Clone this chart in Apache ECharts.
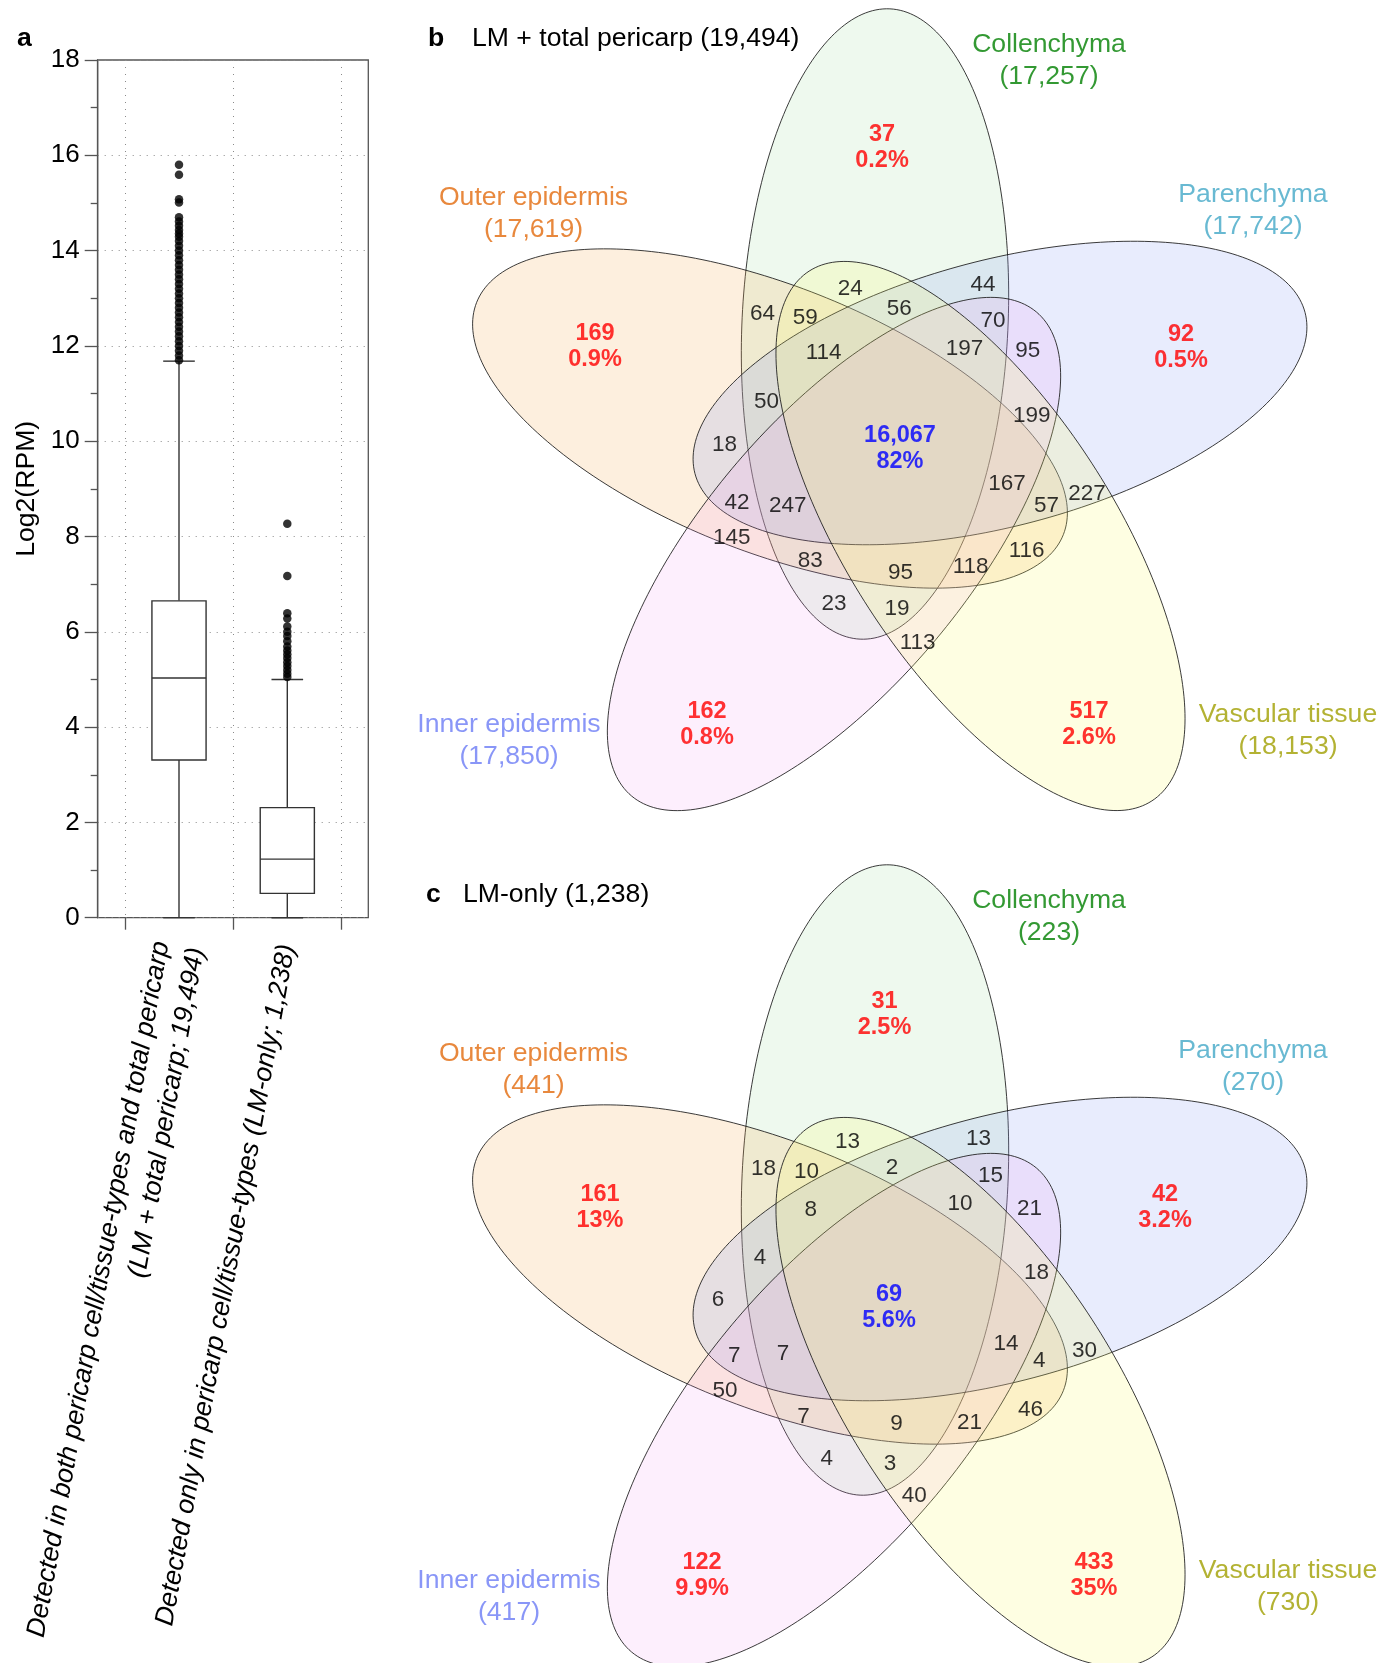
<!DOCTYPE html>
<html>
<head>
<meta charset="utf-8">
<script src="https://cdn.jsdelivr.net/npm/echarts@6.0.0/dist/echarts.min.js"></script>
<style>
  html, body { margin: 0; padding: 0; background: #ffffff; }
  #chart { width: 1382px; height: 1663px; }
</style>
</head>
<body>
<div id="chart"></div>
<script>
// ---------------- panel a: expression of detected genes ----------------
const boxGroupNames = [
  'Detected in both pericarp cell/tissue-types and total pericarp',
  'Detected only in pericarp cell/tissue-types'
];
const boxGroupTags = ['LM + total pericarp', 'LM-only'];
const boxGroupGenes = [19494, 1238];

// lower whisker, Q1, median, Q3, upper whisker (log2 RPM)
const boxLmTotal = [0, 3.31, 5.03, 6.65, 11.68];
const boxLmOnly = [0, 0.51, 1.23, 2.31, 5.0];

// genes beyond the upper whisker
const outliersLmTotal = [11.7, 11.8, 11.9, 12.0, 12.1, 12.2, 12.3, 12.4, 12.5, 12.6, 12.7, 12.8,
  12.9, 13.0, 13.1, 13.2, 13.3, 13.4, 13.5, 13.6, 13.7, 13.8, 13.9, 14.0, 14.1, 14.2, 14.29,
  14.36, 14.43, 14.52, 14.61, 14.7, 15.01, 15.08, 15.59, 15.8];
const outliersLmOnly = [5.05, 5.12, 5.2, 5.28, 5.36, 5.45, 5.53, 5.61, 5.69, 5.8, 5.91, 6.0,
  6.11, 6.28, 6.39, 7.17, 8.27];

// ---------------- panels b and c: five-set overlaps ----------------
const setNames = ['Collenchyma', 'Outer epidermis', 'Parenchyma', 'Inner epidermis', 'Vascular tissue'];

const lmTotalGenes = 19494;
const lmTotalSetSizes = [17257, 17619, 17742, 17850, 18153];
const lmTotalUnique = [37, 169, 92, 162, 517];
const lmTotalUniquePct = ['0.2%', '0.9%', '0.5%', '0.8%', '2.6%'];
const lmTotalShared = 16067;
const lmTotalSharedPct = '82%';
const lmTotalOverlaps = [24, 44, 64, 59, 56, 70, 114, 197, 95, 50, 199, 18, 167, 57, 227,
  42, 247, 145, 116, 83, 95, 118, 23, 19, 113];

const lmOnlyGenes = 1238;
const lmOnlySetSizes = [223, 441, 270, 417, 730];
const lmOnlyUnique = [31, 161, 42, 122, 433];
const lmOnlyUniquePct = ['2.5%', '13%', '3.2%', '9.9%', '35%'];
const lmOnlyShared = 69;
const lmOnlySharedPct = '5.6%';
const lmOnlyOverlaps = [13, 13, 18, 10, 2, 15, 8, 10, 21, 4, 18, 6, 14, 4, 30,
  7, 7, 50, 46, 7, 9, 21, 4, 3, 40];

// ---------------- layout of the diagram (panel pixel units, y down) ----------------
const ELLIPSE_A = 315.5;
const ELLIPSE_B = 133;
const ellipseLayout = [
  { cx: 875,   cy: 324,   tilt: 87.3 },
  { cx: 770,   cy: 418.5, tilt: 158.4 },
  { cx: 1000,  cy: 393,   tilt: 14.8 },
  { cx: 834,   cy: 554,   tilt: 230.1 },
  { cx: 980.5, cy: 536,   tilt: 302.9 }
];
const setLabelPos = [[1049, 58], [533.5, 211], [1253, 208], [509, 738], [1288, 728.5]];
const uniquePosLmTotal = [[882, 145], [595, 344.5], [1181, 345], [707, 722], [1089, 722]];
const uniquePosLmOnly = [[884.5, 156], [600, 349], [1165, 349], [702, 717], [1094, 717]];
const sharedPosLmTotal = [900, 446];
const sharedPosLmOnly = [889, 448.7];
const overlapPosLmTotal = [
  [850.2, 286], [982.9, 282.3], [762.4, 311.7], [805.3, 315], [899.2, 306.7], [993, 318.3],
  [823.7, 350.7], [964.5, 346.7], [1027.8, 348.3], [766.5, 399], [1031.8, 413.3], [724.5, 442.3],
  [1007, 481.5], [1046.5, 503], [1087, 491], [737, 500.7], [787.8, 503.3], [731.8, 535],
  [1026.6, 548.6], [810.2, 558.3], [900.4, 570], [970.6, 564.3], [833.9, 601], [897.1, 606.7],
  [917.6, 640]
];
const overlapPosLmOnly = [
  [847.5, 283], [978.6, 280.7], [763.6, 310.7], [806.4, 313.3], [892.1, 309], [990.4, 317.3],
  [810.7, 351.7], [960, 345], [1029.6, 350.7], [760, 399.7], [1036.4, 414], [717.9, 441.3],
  [1006, 485.7], [1039.3, 502.3], [1084.6, 492.3], [734.3, 497.3], [782.9, 495.7], [725, 532.3],
  [1030.4, 551.3], [803.6, 558], [896.4, 565.7], [969.6, 564], [826.8, 600.7], [890, 605.7],
  [914.3, 637.3]
];

// ---------------- styles ----------------
const FONT = 'Liberation Sans';
const setTextColors = ['#007f00', '#e26a0c', '#42a8c7', '#6b7cf5', '#a09f00'];
const setFills = ['rgba(150,215,150,0.16)', 'rgba(245,175,90,0.2)', 'rgba(140,160,245,0.2)',
  'rgba(240,150,240,0.15)', 'rgba(250,250,110,0.2)'];
const FRAME = '#555555';
const LABEL_NUDGE = [0, 2.5];

const fmt = n => String(n).replace(/\B(?=(\d{3})+(?!\d))/g, ',');

function ellipseSeries(gridIdx, sizes) {
  return {
    type: 'custom',
    xAxisIndex: gridIdx,
    yAxisIndex: gridIdx,
    silent: true,
    z: 2,
    data: sizes.map((v, i) => [i, v]),
    renderItem: function (params, api) {
      const i = api.value(0);
      const e = ellipseLayout[i];
      const t = e.tilt * Math.PI / 180;
      const ct = Math.cos(t), st = Math.sin(t);
      const points = [];
      for (let k = 0; k < 240; k++) {
        const u = k / 240 * 2 * Math.PI;
        const ex = ELLIPSE_A * Math.cos(u);
        const ey = ELLIPSE_B * Math.sin(u);
        points.push(api.coord([e.cx + ex * ct - ey * st, e.cy - (ex * st + ey * ct)]));
      }
      return {
        type: 'polygon',
        shape: { points: points },
        style: { fill: setFills[i], stroke: 'rgba(25,25,25,0.85)', lineWidth: 1 }
      };
    }
  };
}

function labelSeries(gridIdx, items) {
  return {
    type: 'scatter',
    xAxisIndex: gridIdx,
    yAxisIndex: gridIdx,
    silent: true,
    symbolSize: 0,
    z: 5,
    data: items.map(it => ({
      value: it.pos,
      label: {
        show: true,
        position: 'inside',
        offset: LABEL_NUDGE,
        formatter: it.text,
        color: it.color,
        fontSize: it.size,
        fontWeight: it.weight,
        lineHeight: it.lh,
        fontFamily: FONT
      }
    }))
  };
}

function vennLabels(gridIdx, sizes, unique, uniquePct, uniquePos, shared, sharedPct, sharedPos, overlaps, overlapPos) {
  const items = [];
  setNames.forEach((n, i) => {
    items.push({ pos: setLabelPos[i], text: n + '\n(' + fmt(sizes[i]) + ')', color: setTextColors[i], size: 26.6, weight: 'normal', lh: 32 });
    items.push({ pos: uniquePos[i], text: fmt(unique[i]) + '\n' + uniquePct[i], color: '#ff0000', size: 23.5, weight: 'bold', lh: 26 });
  });
  items.push({ pos: sharedPos, text: fmt(shared) + '\n' + sharedPct, color: '#0000ff', size: 23.5, weight: 'bold', lh: 26 });
  overlaps.forEach((v, i) => {
    items.push({ pos: overlapPos[i], text: fmt(v), color: '#000000', size: 22.5, weight: 'normal', lh: 24 });
  });
  return labelSeries(gridIdx, items);
}

const titleStyle = (bold) => ({ fontSize: 26.6, lineHeight: 26, fontWeight: bold ? 'bold' : 'normal', color: '#000', fontFamily: FONT });

const hiddenValueAxis = (gridIndex, min, max, inverse) => ({
  type: 'value', gridIndex: gridIndex, min: min, max: max, inverse: !!inverse, show: false
});

const option = {
  animation: false,
  backgroundColor: '#ffffff',
  textStyle: { fontFamily: FONT },
  title: [
    { text: 'a', left: 17, top: 26, padding: 0, textStyle: titleStyle(true) },
    { text: 'b', left: 428, top: 26, padding: 0, textStyle: titleStyle(true) },
    { text: boxGroupTags[0] + ' (' + fmt(lmTotalGenes) + ')', left: 472, top: 26, padding: 0, textStyle: titleStyle(false) },
    { text: 'c', left: 426, top: 882, padding: 0, textStyle: titleStyle(true) },
    { text: boxGroupTags[1] + ' (' + fmt(lmOnlyGenes) + ')', left: 463, top: 882, padding: 0, textStyle: titleStyle(false) }
  ],
  grid: [
    { left: 97.7, top: 60, width: 270.6, height: 857.7, show: true, borderColor: FRAME, borderWidth: 1.3, backgroundColor: 'transparent' },
    { left: 124.85, top: 60, width: 216.6, height: 857.7 },
    { left: 0, top: 0, width: 1382, height: 831 },
    { left: 0, top: 856, width: 1382, height: 807 }
  ],
  xAxis: [
    hiddenValueAxis(0, 0, 1),
    {
      type: 'category',
      gridIndex: 1,
      data: boxGroupNames,
      boundaryGap: true,
      axisLine: { show: false },
      axisTick: { show: true, length: 12, lineStyle: { color: FRAME, width: 1.3 } },
      splitLine: { show: true, lineStyle: { color: '#8a8a8a', width: 1, type: [1, 6] } },
      axisLabel: {
        interval: 0,
        rotate: 79.8,
        margin: 27,
        padding: [14, 0, 0, 0],
        fontSize: 26.6,
        lineHeight: 36,
        fontStyle: 'italic',
        color: '#000',
        fontFamily: FONT,
        formatter: function (value, index) {
          const tail = '(' + boxGroupTags[index] + '; ' + fmt(boxGroupGenes[index]) + ')';
          return index === 0 ? value + '\n' + tail : value + ' ' + tail;
        }
      }
    },
    hiddenValueAxis(2, 0, 1382),
    hiddenValueAxis(3, 0, 1382)
  ],
  yAxis: [
    {
      type: 'value',
      gridIndex: 0,
      min: 0,
      max: 18,
      interval: 2,
      name: 'Log2(RPM)',
      nameLocation: 'middle',
      nameGap: 58,
      nameRotate: 90,
      nameTextStyle: { fontSize: 26.6, color: '#000', fontFamily: FONT },
      axisLine: { show: true, lineStyle: { color: FRAME, width: 1.3 } },
      axisTick: { show: true, length: 13, lineStyle: { color: FRAME, width: 1.3 } },
      minorTick: { show: true, splitNumber: 2, length: 7, lineStyle: { color: FRAME, width: 1.3 } },
      axisLabel: { fontSize: 26, margin: 18, color: '#000', fontFamily: FONT },
      splitLine: { show: true, lineStyle: { color: '#8a8a8a', width: 1, type: [1, 6] } }
    },
    hiddenValueAxis(1, 0, 18),
    hiddenValueAxis(2, 0, 831, true),
    hiddenValueAxis(3, 0, 807, true)
  ],
  series: [
    {
      type: 'custom',
      xAxisIndex: 1,
      yAxisIndex: 1,
      silent: true,
      z: 3,
      encode: { x: 0, y: [1, 2, 3, 4, 5] },
      data: [[0].concat(boxLmTotal), [1].concat(boxLmOnly)],
      renderItem: function (params, api) {
        const cat = api.value(0);
        const pLo = api.coord([cat, api.value(1)]);
        const pQ1 = api.coord([cat, api.value(2)]);
        const pMed = api.coord([cat, api.value(3)]);
        const pQ3 = api.coord([cat, api.value(4)]);
        const pHi = api.coord([cat, api.value(5)]);
        const band = api.size([1, 0])[0];
        const half = band * 0.25;
        const capHalf = band * 0.146;
        const x = pMed[0];
        const lineStyle = { stroke: '#333333', lineWidth: 1.4 };
        return {
          type: 'group',
          children: [
            { type: 'line', shape: { x1: x, y1: pHi[1], x2: x, y2: pQ3[1] }, style: lineStyle },
            { type: 'line', shape: { x1: x, y1: pQ1[1], x2: x, y2: pLo[1] }, style: lineStyle },
            { type: 'line', shape: { x1: x - capHalf, y1: pHi[1], x2: x + capHalf, y2: pHi[1] }, style: lineStyle },
            { type: 'line', shape: { x1: x - capHalf, y1: pLo[1], x2: x + capHalf, y2: pLo[1] }, style: lineStyle },
            { type: 'rect', shape: { x: x - half, y: pQ3[1], width: 2 * half, height: pQ1[1] - pQ3[1] },
              style: { fill: '#ffffff', stroke: '#333333', lineWidth: 1.4 } },
            { type: 'line', shape: { x1: x - half, y1: pMed[1], x2: x + half, y2: pMed[1] }, style: lineStyle }
          ]
        };
      }
    },
    {
      type: 'scatter',
      xAxisIndex: 1,
      yAxisIndex: 1,
      silent: true,
      z: 4,
      symbol: 'circle',
      symbolSize: 8.5,
      itemStyle: { color: '#000000' },
      data: outliersLmTotal.map(v => [0, v]).concat(outliersLmOnly.map(v => [1, v]))
    },
    ellipseSeries(2, lmTotalSetSizes),
    vennLabels(2, lmTotalSetSizes, lmTotalUnique, lmTotalUniquePct, uniquePosLmTotal,
      lmTotalShared, lmTotalSharedPct, sharedPosLmTotal, lmTotalOverlaps, overlapPosLmTotal),
    ellipseSeries(3, lmOnlySetSizes),
    vennLabels(3, lmOnlySetSizes, lmOnlyUnique, lmOnlyUniquePct, uniquePosLmOnly,
      lmOnlyShared, lmOnlySharedPct, sharedPosLmOnly, lmOnlyOverlaps, overlapPosLmOnly)
  ]
};

const chart = echarts.init(document.getElementById('chart'), null, { renderer: 'canvas' });
chart.setOption(option);
</script>
</body>
</html>
